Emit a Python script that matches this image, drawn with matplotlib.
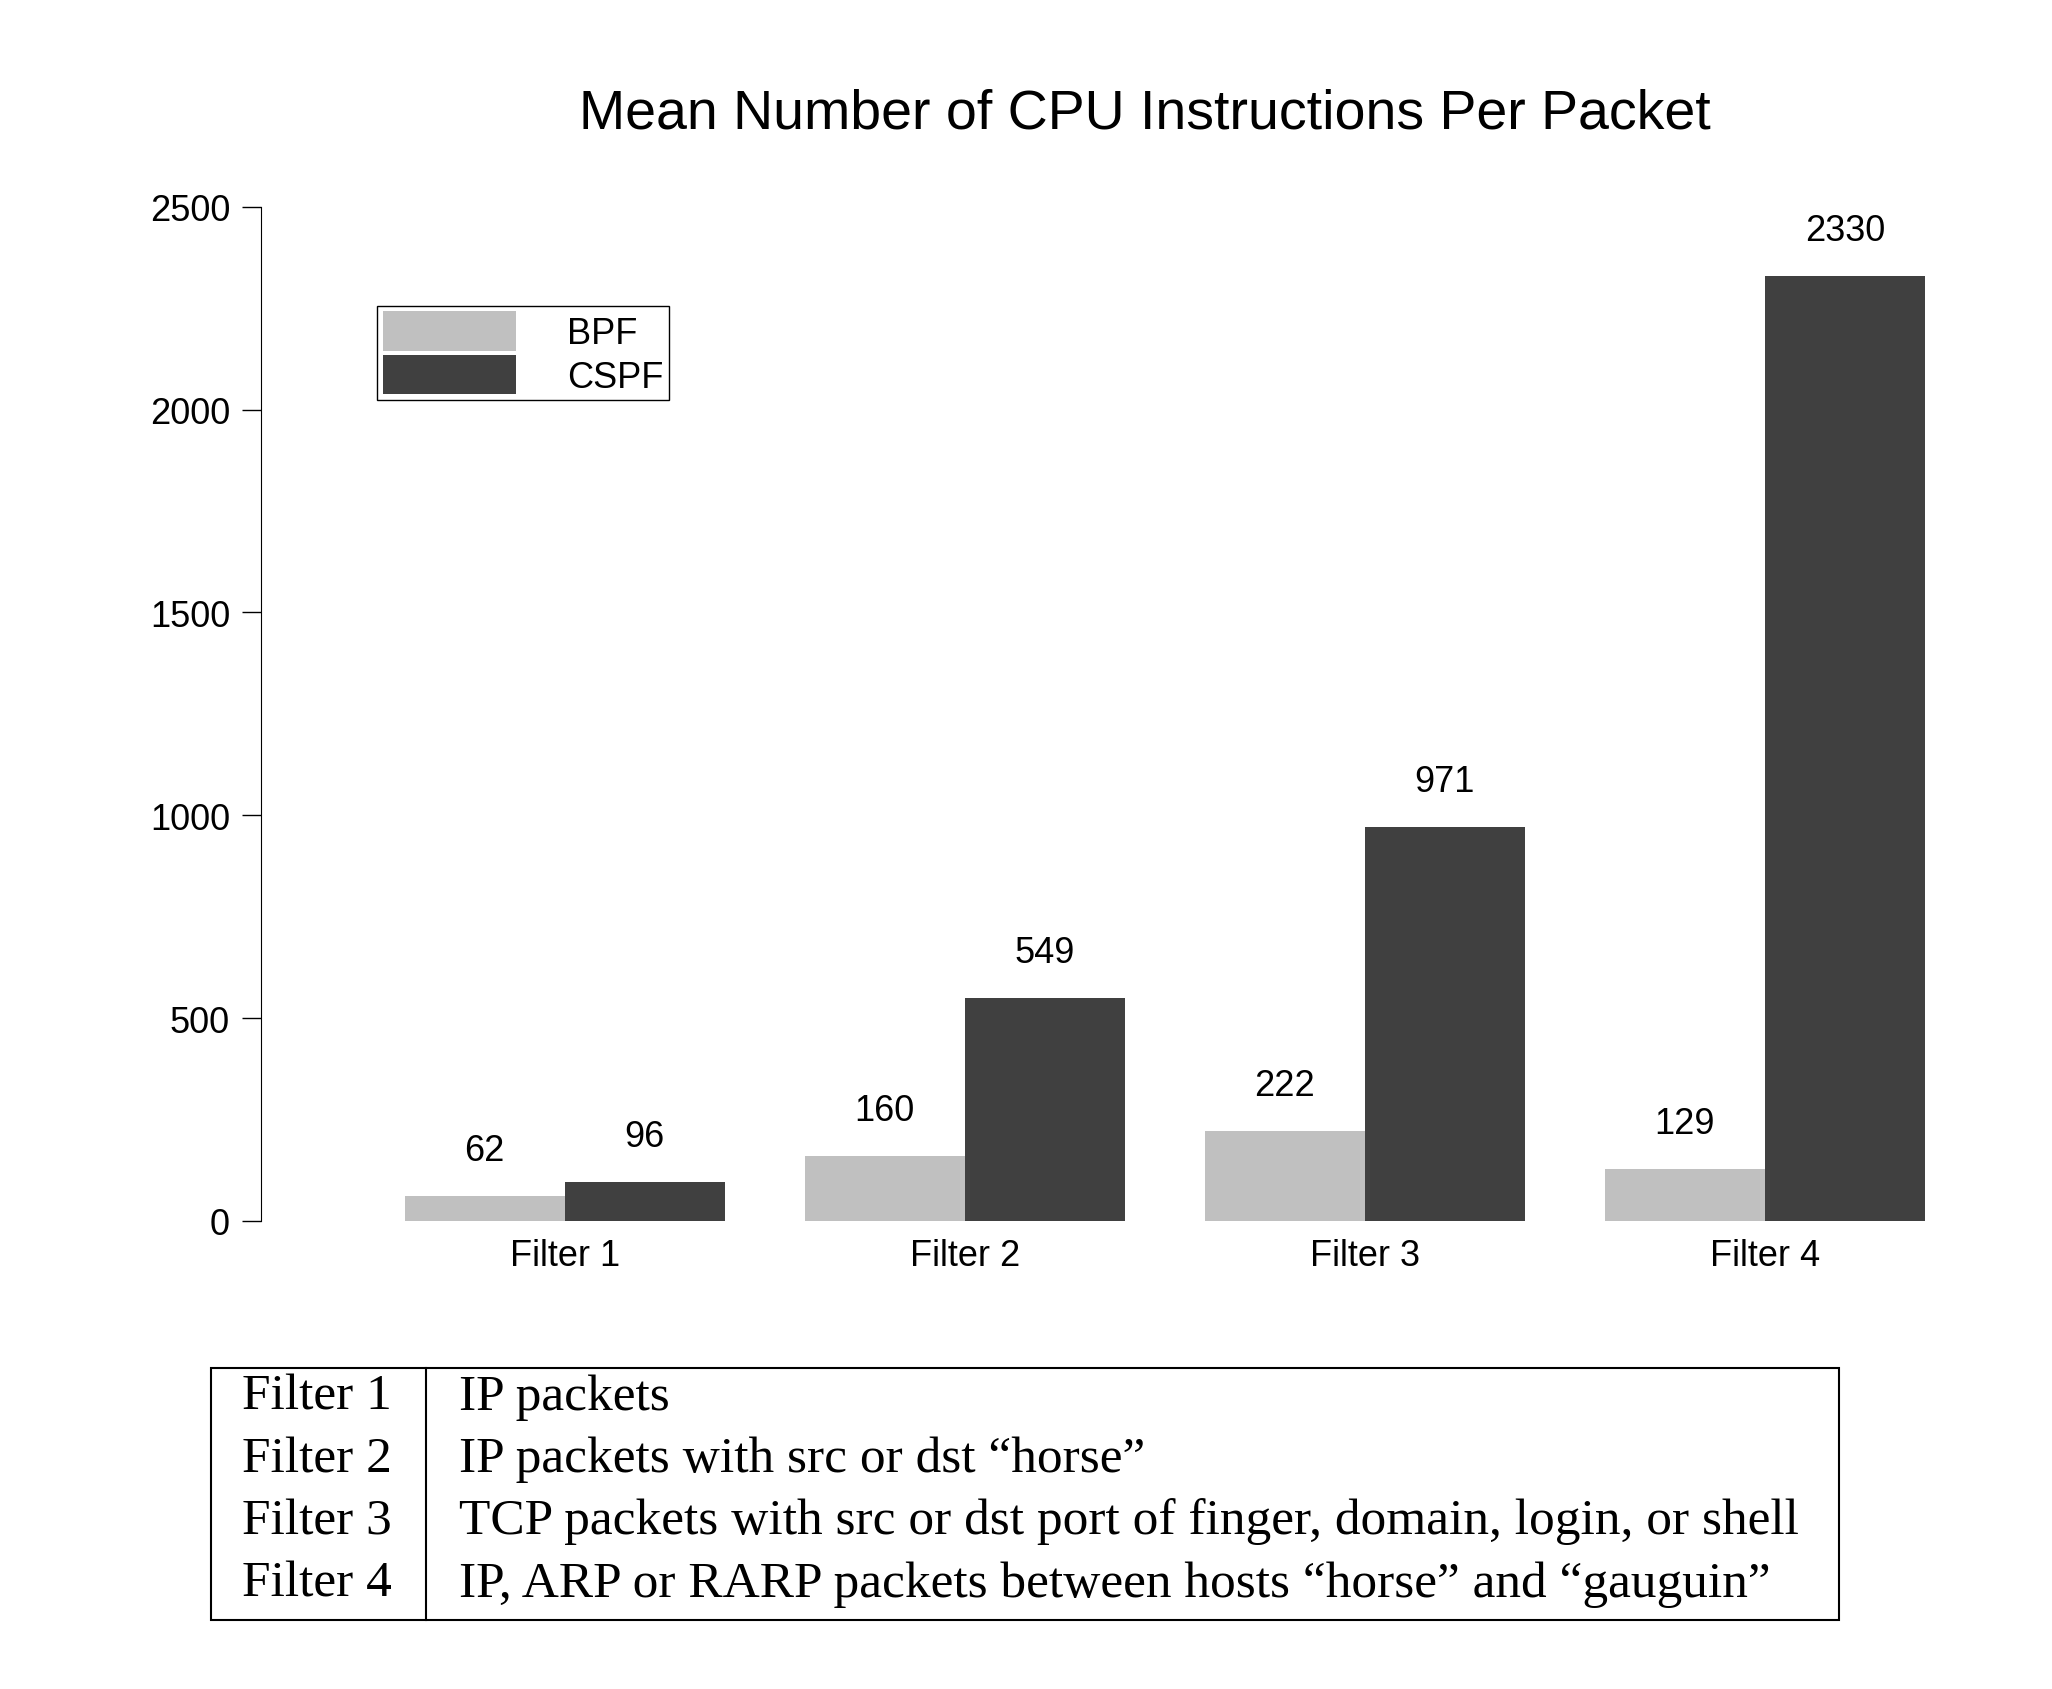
import matplotlib
matplotlib.use('Agg')
import matplotlib.pyplot as plt
import numpy as np
from matplotlib.patches import Rectangle
from matplotlib.lines import Line2D

categories = ['Filter 1', 'Filter 2', 'Filter 3', 'Filter 4']
bpf = [62, 160, 222, 129]
cspf = [96, 549, 971, 2330]
yticks = [0, 500, 1000, 1500, 2000, 2500]
table_rows = [
    ('Filter 1', 'IP packets'),
    ('Filter 2', 'IP packets with src or dst \u201chorse\u201d'),
    ('Filter 3', 'TCP packets with src or dst port of finger, domain, login, or shell'),
    ('Filter 4', 'IP, ARP or RARP packets between hosts \u201chorse\u201d and \u201cgauguin\u201d'),
]

plt.rcParams['font.family'] = 'Liberation Sans'
fig = plt.figure(figsize=(20.52, 16.9), dpi=100)
ax = fig.add_axes([0.127, 0.277, 0.815, 0.600])

x = np.arange(len(categories))
w = 0.4
b1 = ax.bar(x - w / 2, bpf, w, color='#c0c0c0', label='BPF')
b2 = ax.bar(x + w / 2, cspf, w, color='#404040', label='CSPF')
for bars, vals in ((b1, bpf), (b2, cspf)):
    for bar, v in zip(bars, vals):
        ax.annotate(str(v), (bar.get_x() + bar.get_width() / 2, v),
                    xytext=(0, 20), textcoords='offset points',
                    ha='center', va='bottom', fontsize=26)

ax.set_xlim(-0.76, 3.42)
ax.set_ylim(0, 2500)
ax.set_yticks(yticks)
ax.set_xticks(x)
ax.set_xticklabels(categories)
ax.tick_params(axis='y', labelsize=26, length=14, width=1, pad=8)
ax.tick_params(axis='x', labelsize=26, length=0, pad=12)
for s in ('top', 'right', 'bottom'):
    ax.spines[s].set_visible(False)

ax.legend(loc='upper left', bbox_to_anchor=(0.059, 0.92), fontsize=26,
          fancybox=False, edgecolor='black', framealpha=1,
          handlelength=3.7, handleheight=1.3, handletextpad=1.4,
          borderpad=0.15, labelspacing=0.1)

fig.text(0.558, 0.932, 'Mean Number of CPU Instructions Per Packet',
         ha='center', va='center', fontsize=40)

# table under the chart
fig.add_artist(Rectangle((0.103, 0.0407), 0.793, 0.1493, transform=fig.transFigure,
                         fill=False, edgecolor='black', linewidth=1.5))
fig.add_artist(Line2D([0.2075, 0.2075], [0.0407, 0.19], transform=fig.transFigure,
                      color='black', linewidth=1.5))
row_y = [0.173, 0.136, 0.0995, 0.0625]
for (name, desc), y in zip(table_rows, row_y):
    fig.text(0.118, y, name, ha='left', va='center', fontsize=37, family='Liberation Serif')
    fig.text(0.2236, y, desc, ha='left', va='center', fontsize=37, family='Liberation Serif')

plt.savefig('out.png', dpi=100)
